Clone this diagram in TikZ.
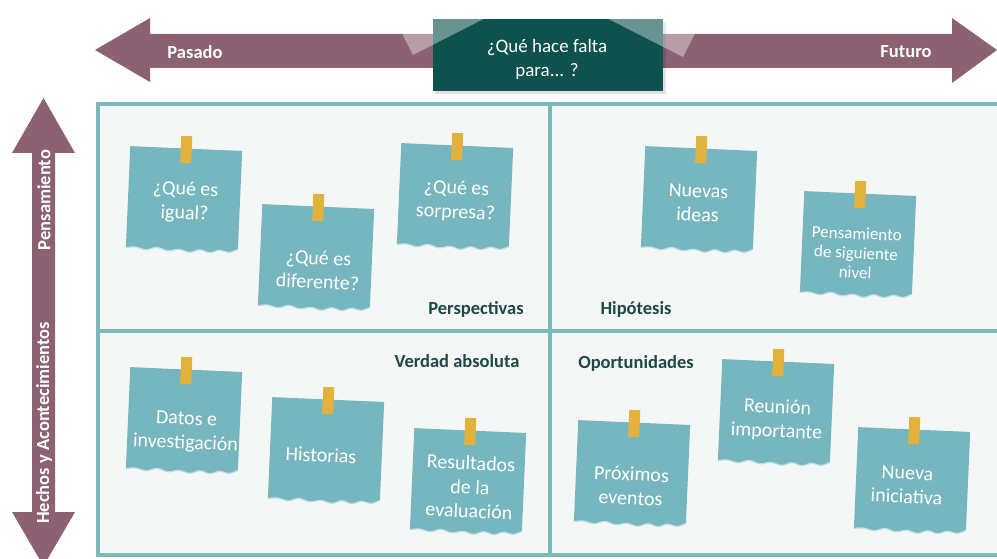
\documentclass[tikz,border=0pt]{standalone}
\usepackage{fontspec}
\setmainfont{Carlito}
\definecolor{mauve}{RGB}{140,97,113}
\definecolor{boxteal}{RGB}{14,82,78}
\definecolor{frameteal}{RGB}{125,184,191}
\definecolor{framefill}{RGB}{245,246,246}
\definecolor{noteteal}{RGB}{118,182,190}
\definecolor{tapecol}{RGB}{226,178,60}
\definecolor{labelteal}{RGB}{28,72,72}
\tikzset{
  notetext/.style={text=white, align=center, font=\fontsize{20}{24}\selectfont, rotate=-2.5, inner sep=0pt},
  smallnotetext/.style={notetext, font=\fontsize{17}{19.5}\selectfont},
  quadlabel/.style={text=labelteal, font=\fontsize{18.5}{22}\selectfont\bfseries, inner sep=0pt},
  arrowlabel/.style={text=white, font=\fontsize{18.5}{22}\selectfont\bfseries, inner sep=0pt},
  arrowbody/.style={fill=mauve},
  tapeglass/.style={fill=white, fill opacity=0.38},
}
\newcommand\stickynote[3]{%
  \begin{scope}[shift={(#1,#2)}, rotate=#3]
    \fill[noteteal] (-56,-51.5) -- (56,-51.5) -- (56,47)
      -- plot[smooth, tension=0.6] coordinates {(56,47) (47,50.5) (38,48.5) (28,51.5) (18,49) (8,52) (-3,49.5) (-14,51.5) (-25,48.5) (-36,51.5) (-46,49) (-56,50)}
      -- cycle;
    \draw[white!55!noteteal, line width=1.2pt] plot[smooth, tension=0.6] coordinates {(56,47) (47,50.5) (38,48.5) (28,51.5) (18,49) (8,52) (-3,49.5) (-14,51.5) (-25,48.5) (-36,51.5) (-46,49) (-56,50)};
    \fill[tapecol] (-5.5,-64) rectangle (5.5,-37);
  \end{scope}}
\begin{document}
\begin{tikzpicture}[x=1pt, y=-1pt]
\useasboundingbox (0,0) rectangle (997,559);
\clip (0,0) rectangle (997,559);
\fill[white] (0,0) rectangle (997,559);

% horizontal double arrow
\fill[arrowbody] (95,50) -- (150,18) -- (150,34) -- (952,34) -- (952,18) -- (997,50)
  -- (952,83) -- (952,68) -- (150,68) -- (150,82) -- cycle;
\node[arrowlabel] (pasado) at (195,52) {Pasado};
\node[arrowlabel] (futuro) at (906,52) {Futuro};

% central box
\fill[black, opacity=0.12] (435,22) rectangle (666,94);
\node[fill=boxteal, minimum width=230pt, minimum height=72pt, inner sep=0pt] (qbox) at (548,55) {};
\node[text=white, align=center, font=\fontsize{19}{24}\selectfont, inner sep=0pt] (qtext) at (547,59) {¿Qué hace falta\\para... ?};
% translucent tape pieces over the box
\fill[tapeglass] (413,55) -- (511,5) -- (496,-24) -- (398,25.6) -- cycle;
\fill[tapeglass] (683,57) -- (585,7) -- (600,-22) -- (698,27.6) -- cycle;

% vertical double arrow
\fill[arrowbody] (43.5,98) -- (75,153) -- (55,153) -- (55,512) -- (75,512) -- (43.5,566)
  -- (12,512) -- (32,512) -- (32,153) -- (12,153) -- cycle;
\node[arrowlabel, rotate=90] (pens) at (44,200) {Pensamiento};
\node[arrowlabel, rotate=90] (hechos) at (44,423) {Hechos y Acontecimientos};

% frame
\draw[frameteal, line width=4.5pt, fill=framefill] (98,104) rectangle (1002,555);
\draw[frameteal, line width=4.5pt] (550,104) -- (550,555);
\draw[frameteal, line width=4.5pt] (98,331) -- (1002,331);

% quadrant labels
\node[quadlabel] (persp) at (476,309) {Perspectivas};
\node[quadlabel] (hipo) at (636,309) {Hipótesis};
\node[quadlabel] (verdad) at (457,361) {Verdad absoluta};
\node[quadlabel] (oport) at (636,363) {Oportunidades};

% sticky notes
\stickynote{184}{200}{-2.5}
\node[notetext] (n1) at (185,202) {¿Qué es\\igual?};
\stickynote{316}{258}{-2.5}
\node[notetext] (n2) at (318,270) {¿Qué es\\diferente?};
\stickynote{455}{197}{-2.5}
\node[notetext] (n3) at (456,201) {¿Qué es\\sorpresa?};
\stickynote{699}{200}{-2.5}
\node[notetext] (n4) at (698,203) {Nuevas\\ideas};
\stickynote{858}{245}{-2.5}
\node[smallnotetext] (n5) at (856,253) {Pensamiento\\de siguiente\\nivel};
\stickynote{184}{421}{-2.5}
\node[notetext] (n6) at (186,432) {Datos e\\investigación};
\stickynote{326}{451}{-2.5}
\node[notetext] (n7) at (321,455) {Historias};
\stickynote{468}{482}{-2.5}
\node[notetext] (n8) at (470,487) {Resultados\\de la\\evaluación};
\stickynote{776}{413}{-2.5}
\node[notetext] (n9) at (777,420) {Reunión\\importante};
\stickynote{632}{474}{-2.5}
\node[notetext] (n10) at (631,486) {Próximos\\eventos};
\stickynote{912}{481}{-2.5}
\node[notetext] (n11) at (907,485) {Nueva\\iniciativa};
\end{tikzpicture}
\end{document}
